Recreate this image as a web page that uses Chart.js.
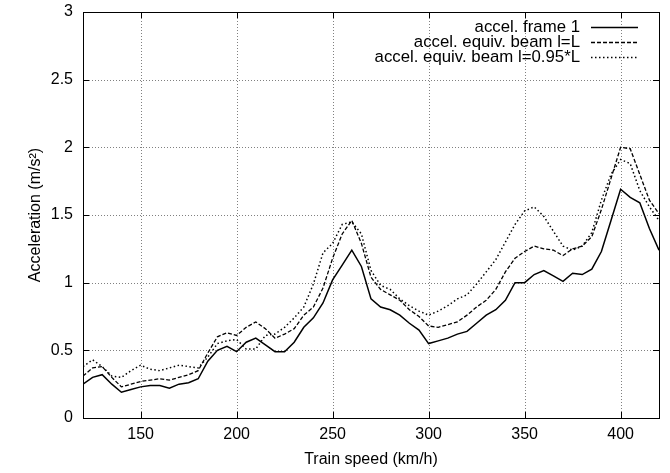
<!DOCTYPE html>
<html>
<head>
<meta charset="utf-8">
<script src="https://cdn.jsdelivr.net/npm/chart.js@4/dist/chart.umd.min.js"></script>
<style>
html,body{margin:0;padding:0;background:#fff;}
#wrap{width:670px;height:473px;position:relative;}
</style>
</head>
<body>
<div id="wrap"><canvas id="c" width="670" height="473"></canvas></div>
<script>
const speeds = [120,125,130,135,140,145,150,155,160,165,170,175,180,185,190,195,200,205,210,215,220,225,230,235,240,245,250,255,260,265,270,275,280,285,290,295,300,305,310,315,320,325,330,335,340,345,350,355,360,365,370,375,380,385,390,395,400,405,410,415,420];

const frame1 = [0.25,0.30,0.32,0.25,0.19,0.21,0.23,0.24,0.24,0.22,0.25,0.26,0.29,0.42,0.50,0.53,0.49,0.56,0.59,0.54,0.49,0.49,0.56,0.67,0.74,0.85,1.02,1.13,1.24,1.12,0.88,0.82,0.80,0.76,0.70,0.65,0.55,0.57,0.59,0.62,0.64,0.70,0.76,0.80,0.87,1.00,1.00,1.06,1.09,1.05,1.01,1.07,1.06,1.10,1.23,1.46,1.69,1.63,1.59,1.40,1.24];

const beamL = [0.31,0.37,0.38,0.30,0.23,0.25,0.27,0.28,0.29,0.28,0.30,0.32,0.35,0.48,0.60,0.63,0.61,0.67,0.71,0.66,0.59,0.62,0.66,0.76,0.82,0.96,1.18,1.36,1.46,1.29,1.04,0.95,0.91,0.87,0.80,0.75,0.68,0.67,0.69,0.71,0.76,0.82,0.87,0.95,1.08,1.18,1.23,1.27,1.25,1.24,1.20,1.25,1.27,1.34,1.54,1.77,2.00,1.99,1.80,1.61,1.51];

const beam095L = [0.38,0.43,0.38,0.31,0.30,0.35,0.39,0.36,0.35,0.37,0.39,0.38,0.37,0.45,0.55,0.57,0.58,0.51,0.51,0.61,0.62,0.67,0.74,0.82,0.99,1.22,1.29,1.43,1.45,1.36,1.09,0.98,0.95,0.88,0.83,0.79,0.76,0.79,0.83,0.88,0.91,0.99,1.08,1.17,1.30,1.43,1.53,1.56,1.49,1.38,1.27,1.24,1.27,1.37,1.61,1.80,1.91,1.88,1.68,1.56,1.46];

const seriesLabels = ["accel. frame 1", "accel. equiv. beam l=L", "accel. equiv. beam l=0.95*L"];
const xTicks = [150,200,250,300,350,400];
const yTicks = [0,0.5,1,1.5,2,2.5,3];
const xTitle = "Train speed (km/h)";
const yTitle = "Acceleration (m/s²)";

const FONT = "'Liberation Sans', Arial, Helvetica, sans-serif";
const styles = [
  {dash: [], width: 1.5},
  {dash: [4,2], width: 1.3},
  {dash: [1.5,2.5], width: 1.5}
];
const seriesData = [frame1, beamL, beam095L];

const datasets = seriesData.map((arr, i) => ({
  label: seriesLabels[i],
  data: speeds.map((s, j) => ({x: s, y: arr[j]})),
  borderColor: '#000',
  borderWidth: styles[i].width,
  borderDash: styles[i].dash,
  pointRadius: 0,
  tension: 0,
  fill: false
}));

const gnuFrame = {
  id: 'gnuFrame',
  beforeDatasetsDraw(chart) {
    const {ctx, chartArea: a, scales: {x, y}} = chart;
    ctx.save();
    ctx.strokeStyle = '#808080';
    ctx.lineWidth = 1;
    ctx.setLineDash([1,2]);
    ctx.beginPath();
    xTicks.forEach(v => {
      const px = Math.round(x.getPixelForValue(v)) + 0.5;
      ctx.moveTo(px, a.top); ctx.lineTo(px, a.bottom);
    });
    yTicks.forEach(v => {
      const py = Math.round(y.getPixelForValue(v)) + 0.5;
      ctx.moveTo(a.left, py); ctx.lineTo(a.right, py);
    });
    ctx.stroke();
    ctx.restore();
  },
  afterDatasetsDraw(chart) {
    const {ctx, chartArea: a, scales: {x, y}} = chart;
    ctx.save();
    ctx.strokeStyle = '#000';
    ctx.lineWidth = 1;
    ctx.setLineDash([]);
    ctx.beginPath();
    const L = 6;
    xTicks.forEach(v => {
      const px = Math.round(x.getPixelForValue(v)) + 0.5;
      ctx.moveTo(px, a.bottom); ctx.lineTo(px, a.bottom - L);
      ctx.moveTo(px, a.top); ctx.lineTo(px, a.top + L);
    });
    yTicks.forEach(v => {
      const py = Math.round(y.getPixelForValue(v)) + 0.5;
      ctx.moveTo(a.left, py); ctx.lineTo(a.left + L, py);
      ctx.moveTo(a.right, py); ctx.lineTo(a.right - L, py);
    });
    ctx.stroke();
    ctx.strokeRect(Math.round(a.left) + 0.5, Math.round(a.top) + 0.5, Math.round(a.right - a.left), Math.round(a.bottom - a.top));
    // legend (gnuplot style: text then sample)
    ctx.font = '16.8px ' + FONT;
    ctx.fillStyle = '#000';
    ctx.textAlign = 'right';
    ctx.textBaseline = 'middle';
    const textRight = 580, s0 = 591, s1 = 638;
    seriesLabels.forEach((lab, i) => {
      const yy = a.top + 14.5 + i * 15;
      ctx.fillText(lab, textRight, yy + 1);
      ctx.beginPath();
      ctx.lineWidth = styles[i].width;
      ctx.setLineDash(styles[i].dash);
      ctx.moveTo(s0, Math.round(yy) + 0.5);
      ctx.lineTo(s1, Math.round(yy) + 0.5);
      ctx.stroke();
    });
    ctx.restore();
  }
};

new Chart(document.getElementById('c'), {
  type: 'line',
  data: {datasets},
  options: {
    responsive: false,
    animation: false,
    devicePixelRatio: 1,
    layout: {padding: {top: 12, right: 11, left: 0, bottom: 0}},
    plugins: {legend: {display: false}, tooltip: {enabled: false}},
    scales: {
      x: {
        type: 'linear',
        min: 120, max: 420,
        afterFit(s) { s.height = 55; s.paddingLeft = 0; s.paddingRight = 0; },
        afterBuildTicks(s) { s.ticks = xTicks.map(v => ({value: v})); },
        ticks: {color: '#000', font: {size: 16, family: FONT}, padding: 7, maxRotation: 0, callback: v => String(v)},
        grid: {display: false, drawTicks: false},
        border: {display: false},
        title: {display: true, text: xTitle, color: '#000', font: {size: 16, family: FONT}, padding: {top: 0, bottom: 4}}
      },
      y: {
        min: 0, max: 3,
        afterFit(s) { s.width = 83; s.paddingTop = 0; s.paddingBottom = 0; },
        afterBuildTicks(s) { s.ticks = yTicks.map(v => ({value: v})); },
        ticks: {color: '#000', font: {size: 16, family: FONT}, padding: 10, callback: v => String(v)},
        grid: {display: false, drawTicks: false},
        border: {display: false},
        title: {display: true, text: yTitle, color: '#000', font: {size: 16, family: FONT}, padding: {top: 26, bottom: 0}}
      }
    }
  },
  plugins: [gnuFrame]
});
</script>
</body>
</html>
